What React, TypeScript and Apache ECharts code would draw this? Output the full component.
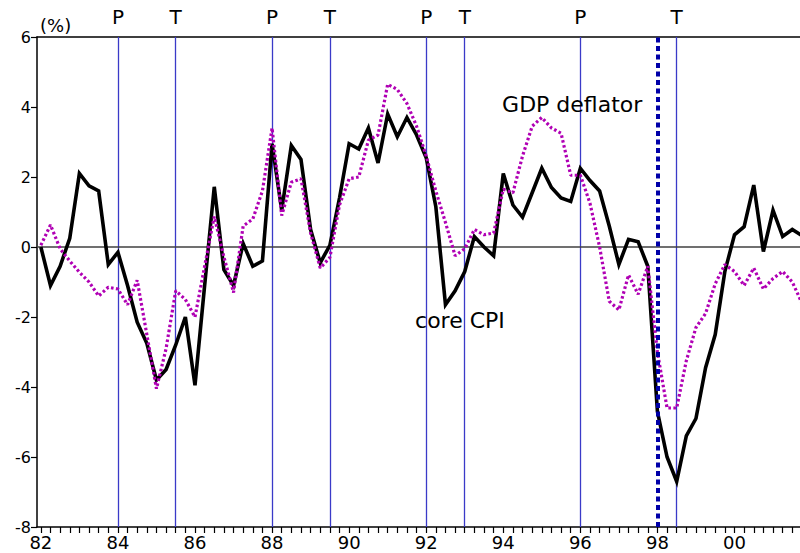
import React, { useEffect, useRef } from "react";
import * as echarts from "echarts";

// Quarterly series starting 1982 Q1 (x = year, quarters at .00 .25 .50 .75)
const START_YEAR = 82;
const QUARTER = 0.25;

const coreCPI = [
  0.0, -1.1, -0.55, 0.25, 2.1, 1.75, 1.6, -0.5,
  -0.15, -1.1, -2.15, -2.75, -3.8, -3.5, -2.8, -2.0,
  -3.95, -1.1, 1.72, -0.65, -1.1, 0.1, -0.55, -0.4,
  2.95, 1.05, 2.9, 2.5, 0.5, -0.45, 0.05, 1.4,
  2.95, 2.8, 3.4, 2.4, 3.8, 3.15, 3.7, 3.2,
  2.55, 1.15, -1.65, -1.25, -0.7, 0.3, 0.0, -0.25,
  2.1, 1.2, 0.85, 1.55, 2.25, 1.7, 1.4, 1.3,
  2.25, 1.9, 1.6, 0.6, -0.5, 0.22, 0.15, -0.55,
  -4.7, -6.0, -6.7, -5.4, -4.9, -3.45, -2.5, -0.7,
  0.35, 0.58, 1.77, -0.13, 1.05, 0.3, 0.5, 0.33,
];

const gdpDeflator = [
  0.05, 0.63, -0.05, -0.4, -0.72, -1.0, -1.4, -1.15,
  -1.2, -1.65, -0.95, -2.5, -4.05, -2.9, -1.25, -1.5,
  -2.0, -0.55, 0.87, -0.28, -1.3, 0.6, 0.8, 1.6,
  3.4, 0.9, 1.85, 1.95, 0.4, -0.6, -0.3, 1.2,
  1.95, 2.0, 3.05, 3.2, 4.65, 4.5, 4.1, 3.45,
  2.6, 1.6, 0.7, -0.25, -0.05, 0.5, 0.35, 0.4,
  1.65, 1.55, 2.6, 3.45, 3.7, 3.4, 3.25, 2.05,
  2.05, 1.25, 0.0, -1.55, -1.8, -0.8, -1.35, -0.55,
  -3.0, -4.6, -4.6, -3.25, -2.3, -1.9, -1.05, -0.5,
  -0.7, -1.1, -0.6, -1.2, -0.9, -0.7, -1.0, -1.6,
];

// Business-cycle turning points (P = peak, T = trough)
const peaks = [84, 88, 92, 96];
const troughs = [85.5, 89.5, 93, 98.5];
const crisisDate = [98];

const xLabelYears = [82, 84, 86, 88, 90, 92, 94, 96, 98, 100];
const xTickQuarters = Array.from({ length: 80 }, (_, i) => START_YEAR + i * QUARTER);
const X_MIN = 81.9;
const X_MAX = 101.7;
const Y_MIN = -8;
const Y_MAX = 6;
const Y_STEP = 2;

const annotations = [
  { text: "GDP deflator", x: 93.97, y: 4.06 },
  { text: "core CPI", x: 91.71, y: -2.11 },
];

const FONT = "DejaVu Sans";

export default function App() {
  const ref = useRef<HTMLDivElement>(null);

  useEffect(() => {
    const chart = echarts.init(ref.current!, null, { renderer: "svg" });
    const toXY = (arr: number[]) => arr.map((v, i) => [START_YEAR + i * QUARTER, v]);

    const turnLines = [
      ...peaks.map((x) => ({ xAxis: x, name: "P" })),
      ...troughs.map((x) => ({ xAxis: x, name: "T" })),
    ];

    chart.setOption({
      animation: false,
      backgroundColor: "#ffffff",
      grid: { left: 37, top: 37, right: 0, bottom: 26, containLabel: false },
      xAxis: [
        {
          type: "value",
          min: X_MIN,
          max: X_MAX,
          axisLine: { show: true, onZero: false, lineStyle: { color: "#000", width: 1.5 } },
          axisTick: {
            show: true,
            length: 6,
            customValues: xTickQuarters,
            lineStyle: { color: "#000", width: 1.2 },
          },
          axisLabel: {
            show: true,
            customValues: xLabelYears,
            formatter: (v: number) => String(Math.round(v) % 100).padStart(2, "0"),
            fontFamily: FONT,
            fontSize: 18,
            color: "#000",
            margin: 6,
          },
          splitLine: { show: false },
        },
        {
          type: "value",
          position: "top",
          min: X_MIN,
          max: X_MAX,
          axisLine: { show: true, onZero: false, lineStyle: { color: "#000", width: 1.5 } },
          axisTick: { show: false },
          axisLabel: { show: false },
          splitLine: { show: false },
        },
      ],
      yAxis: {
        type: "value",
        min: Y_MIN,
        max: Y_MAX,
        interval: Y_STEP,
        axisLine: { show: true, onZero: false, lineStyle: { color: "#000", width: 1.5 } },
        axisTick: { show: true, length: 6, lineStyle: { color: "#000", width: 1.2 } },
        axisLabel: { fontFamily: FONT, fontSize: 16, color: "#000", margin: 6 },
        splitLine: { show: false },
      },
      series: [
        {
          name: "core CPI",
          type: "line",
          data: toXY(coreCPI),
          showSymbol: false,
          symbol: "none",
          z: 3,
          lineStyle: { color: "#000", width: 3.6, join: "miter" },
          markLine: {
            silent: true,
            symbol: "none",
            z: 1,
            label: {
              show: true,
              position: "end",
              formatter: "{b}",
              fontFamily: FONT,
              fontSize: 20,
              color: "#000",
              distance: 10,
            },
            lineStyle: { color: "#3a3ac8", width: 1.3, type: "solid" },
            data: [
              ...turnLines,
              {
                yAxis: 0,
                name: "",
                label: { show: false },
                lineStyle: { color: "#404040", width: 1.5, type: "solid" },
              },
            ],
          },
        },
        {
          name: "GDP deflator",
          type: "line",
          data: toXY(gdpDeflator),
          showSymbol: false,
          symbol: "none",
          z: 4,
          lineStyle: { color: "#b000b4", width: 3.2, type: [2.6, 2.4], cap: "butt" },
          markLine: {
            silent: true,
            symbol: "none",
            z: 5,
            label: { show: false },
            lineStyle: { color: "#0000a8", width: 4, type: [5, 3.5] },
            data: crisisDate.map((x) => ({ xAxis: x })),
          },
        },
      ],
    });

    const graphics: any[] = annotations.map((a) => {
      const [px, py] = chart.convertToPixel({ gridIndex: 0 }, [a.x, a.y]) as number[];
      return {
        type: "text",
        x: px,
        y: py,
        z: 10,
        style: {
          text: a.text,
          fontFamily: FONT,
          fontSize: 22,
          fill: "#000",
          align: "left",
          verticalAlign: "middle",
        },
      };
    });
    graphics.push({
      type: "text",
      x: 40,
      y: 25,
      z: 10,
      style: {
        text: "(%)",
        fontFamily: FONT,
        fontSize: 18,
        fill: "#000",
        align: "left",
        verticalAlign: "middle",
      },
    });
    chart.setOption({ graphic: graphics });

    return () => chart.dispose();
  }, []);

  return (
    <div
      ref={ref}
      style={{ position: "fixed", left: 0, top: 0, width: 800, height: 553, background: "#fff" }}
    />
  );
}
